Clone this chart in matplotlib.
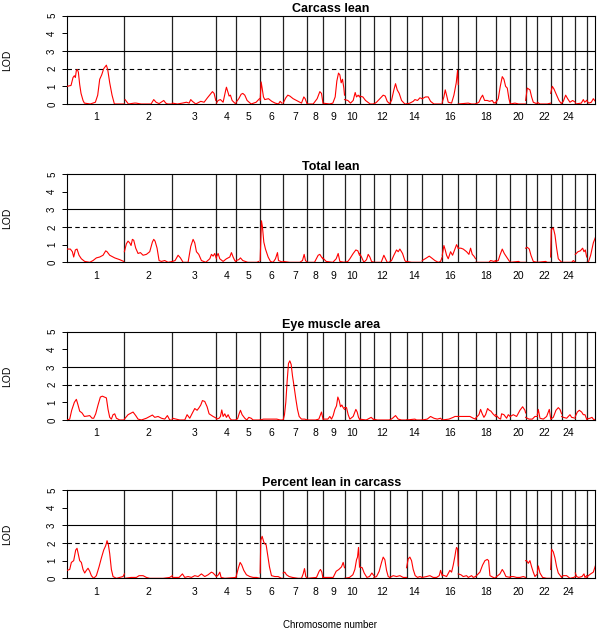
import numpy as np
import matplotlib.pyplot as plt

plt.rcParams['font.family'] = ['Liberation Sans', 'DejaVu Sans']

chrom_names = [str(i) for i in range(1, 27)]
chrom_len = [172, 144, 132, 59, 72, 69, 72, 47, 65, 45, 43, 48, 50,
             47, 60, 48, 52, 60, 44, 46, 35, 40, 33, 41, 34, 26]
shown_labels = ['1', '2', '3', '4', '5', '6', '7', '8', '9', '10',
                '12', '14', '16', '18', '20', '22', '24']

# LOD profiles: one list of (position, LOD) per chromosome
carcass_lean = [
    [(0, 1.0), (12, 1.05), (18, 1.5), (22, 1.6), (25, 1.5), (28, 1.9), (31, 1.95), (34, 1.8), (38, 1.1), (42, 0.6),
     (48, 0.2), (52, 0.05), (70, 0.0), (85, 0.1), (92, 0.5), (98, 1.4), (104, 1.65), (110, 2.0), (114, 2.1),
     (118, 2.2), (122, 1.95), (128, 1.2), (135, 0.5), (142, 0.0), (172, 0.0)],
    [(2, 0.25), (8, 0.1), (12, 0.0), (30, 0.05), (35, 0.05), (50, 0.0), (80, 0.0), (88, 0.25), (95, 0.1),
     (104, 0.02), (118, 0.2), (124, 0.05), (130, 0.0), (144, 0.0)],
    [(0, 0.05), (15, 0.0), (30, 0.05), (42, 0.1), (50, 0.05), (55, 0.25), (60, 0.15), (70, 0.0), (85, 0.15),
     (95, 0.1), (105, 0.35), (120, 0.7), (125, 0.6), (130, 0.2)],
    [(0, 0.05), (5, 0.2), (12, 0.25), (20, 0.1), (28, 0.8), (30, 0.95), (34, 0.7), (38, 0.45), (42, 0.5),
     (47, 0.2), (55, 0.05), (59, 0.0)],
    [(0, 0.1), (8, 0.3), (15, 0.55), (20, 0.6), (26, 0.5), (33, 0.2), (45, 0.0), (60, 0.1), (70, 0.3)],
    [(0, 0.2), (3, 1.25), (6, 0.9), (10, 0.4), (14, 0.25), (25, 0.3), (35, 0.15), (45, 0.05), (55, 0.0),
     (60, 0.15), (65, 0.05)],
    [(0, 0.05), (8, 0.35), (14, 0.5), (20, 0.45), (30, 0.3), (45, 0.15), (55, 0.05), (62, 0.4), (66, 0.3), (72, 0.0)],
    [(0, 0.0), (18, 0.0), (30, 0.3), (38, 0.7), (43, 0.6), (47, 0.1)],
    [(0, 0.05), (20, 0.0), (30, 0.05), (37, 0.4), (42, 1.3), (47, 1.75), (51, 1.65), (55, 1.2), (59, 1.4),
     (63, 0.9), (65, 0.5)],
    [(0, 0.25), (10, 0.2), (18, 0.05), (26, 0.2), (32, 0.65), (36, 0.4), (41, 0.5), (45, 0.4)],
    [(0, 0.45), (10, 0.4), (18, 0.2), (25, 0.1), (32, 0.0), (43, 0.0)],
    [(0, 0.0), (8, 0.1), (18, 0.3), (28, 0.5), (34, 0.45), (40, 0.15), (48, 0.0)],
    [(0, 0.05), (5, 0.2), (12, 0.8), (17, 1.15), (22, 0.8), (28, 0.6), (35, 0.2), (45, 0.0), (50, 0.0)],
    [(0, 0.0), (10, 0.05), (20, 0.15), (25, 0.25), (33, 0.2), (40, 0.35), (47, 0.3)],
    [(0, 0.3), (10, 0.4), (18, 0.4), (25, 0.15), (35, 0.0), (60, 0.0)],
    [(0, 0.1), (5, 0.4), (9, 0.8), (13, 0.5), (18, 0.1), (28, 0.05), (35, 0.5), (42, 1.2), (46, 1.9), (48, 1.1)],
    [(0, 0.0), (30, 0.05), (40, 0.0), (52, 0.0)],
    [(0, 0.0), (10, 0.1), (16, 0.35), (21, 0.5), (27, 0.2), (35, 0.2), (42, 0.15), (50, 0.2), (55, 0.05), (60, 0.1)],
    [(0, 0.05), (8, 0.3), (14, 1.0), (20, 1.55), (25, 1.4), (30, 1.0), (35, 0.9), (40, 0.3), (44, 0.0)],
    [(0, 0.0), (14, 0.05), (25, 0.0), (46, 0.0)],
    [(0, 0.2), (5, 0.9), (13, 0.8), (18, 0.4), (23, 0.1), (35, 0.0)],
    [(0, 0.1), (8, 0.0), (30, 0.0), (40, 0.05)],
    [(0, 0.6), (5, 1.0), (10, 0.85), (18, 0.5), (25, 0.2), (33, 0.0)],
    [(0, 0.05), (5, 0.15), (12, 0.5), (18, 0.3), (25, 0.1), (33, 0.2), (41, 0.1)],
    [(0, 0.0), (18, 0.05), (24, 0.25), (28, 0.1), (34, 0.2)],
    [(0, 0.2), (6, 0.05), (14, 0.1), (20, 0.3), (26, 0.15)],
]

total_lean = [
    [(0, 0.75), (10, 0.75), (16, 0.6), (20, 0.3), (25, 0.7), (30, 0.75), (36, 0.4), (43, 0.2), (53, 0.05),
     (68, 0.0), (78, 0.1), (88, 0.25), (98, 0.3), (108, 0.4), (116, 0.65), (120, 0.6), (128, 0.4), (143, 0.25),
     (158, 0.15), (170, 0.05)],
    [(0, 0.6), (6, 1.05), (11, 1.2), (16, 1.1), (20, 0.95), (24, 1.3), (28, 1.25), (34, 0.8), (41, 0.5),
     (48, 0.55), (56, 0.4), (66, 0.45), (76, 0.6), (84, 1.15), (88, 1.3), (92, 1.2), (98, 0.8), (104, 0.1),
     (111, 0.05), (121, 0.1), (131, 0.0), (144, 0.05)],
    [(0, 0.05), (8, 0.1), (17, 0.4), (24, 0.25), (32, 0.0), (47, 0.0), (55, 0.9), (62, 1.3), (67, 1.1),
     (72, 0.6), (79, 0.45), (87, 0.1), (100, 0.0), (112, 0.2), (117, 0.45), (122, 0.35), (127, 0.5), (132, 0.2)],
    [(0, 0.3), (5, 0.5), (10, 0.2), (20, 0.05), (30, 0.2), (40, 0.3), (45, 0.55), (50, 0.3), (55, 0.1), (59, 0.0)],
    [(0, 0.1), (8, 0.15), (13, 0.25), (20, 0.1), (35, 0.0), (62, 0.0), (68, 0.05)],
    [(0, 0.1), (4, 2.35), (7, 2.0), (11, 1.15), (16, 0.75), (24, 0.3), (31, 0.05), (39, 0.0), (46, 0.2),
     (52, 0.55), (55, 0.1), (69, 0.0)],
    [(0, 0.05), (20, 0.0), (50, 0.0), (58, 0.1), (63, 0.45), (67, 0.1), (72, 0.0)],
    [(0, 0.0), (22, 0.0), (33, 0.4), (38, 0.45), (43, 0.3), (47, 0.2)],
    [(0, 0.25), (10, 0.05), (30, 0.0), (40, 0.2), (46, 0.5), (51, 0.05), (65, 0.0)],
    [(0, 0.0), (10, 0.05), (16, 0.2), (26, 0.5), (34, 0.7), (40, 0.65), (45, 0.4)],
    [(0, 0.5), (6, 0.3), (13, 0.0), (21, 0.15), (26, 0.45), (31, 0.3), (36, 0.05), (43, 0.0)],
    [(0, 0.0), (22, 0.0), (30, 0.4), (35, 0.2), (40, 0.0), (48, 0.0)],
    [(0, 0.05), (5, 0.1), (12, 0.4), (20, 0.7), (25, 0.6), (30, 0.75), (38, 0.5), (45, 0.1), (50, 0.0)],
    [(0, 0.05), (15, 0.0), (47, 0.0)],
    [(0, 0.1), (13, 0.25), (21, 0.35), (28, 0.25), (38, 0.1), (48, 0.0), (55, 0.05), (60, 0.3)],
    [(0, 0.4), (5, 0.95), (9, 0.7), (13, 0.4), (18, 0.2), (25, 0.6), (31, 0.4), (38, 0.75), (43, 1.0), (48, 0.8)],
    [(0, 0.8), (8, 0.8), (15, 0.75), (25, 0.6), (32, 0.45), (37, 0.8), (42, 0.45), (47, 0.35), (52, 0.2)],
    [(0, 0.0), (40, 0.0), (45, 0.1), (55, 0.05), (60, 0.1)],
    [(0, 0.05), (8, 0.1), (13, 0.4), (20, 0.75), (26, 0.5), (33, 0.3), (40, 0.1), (44, 0.0)],
    [(0, 0.0), (25, 0.05), (30, 0.0), (46, 0.0)],
    [(0, 0.8), (5, 0.85), (11, 0.75), (16, 0.4), (23, 0.05), (35, 0.0)],
    [(0, 0.0), (25, 0.05), (30, 0.0), (40, 0.0)],
    [(0, 0.3), (2, 1.85), (8, 1.95), (13, 1.55), (18, 0.8), (23, 0.2), (33, 0.0)],
    [(0, 0.0), (30, 0.0), (35, 0.1), (41, 0.0)],
    [(0, 0.45), (8, 0.6), (15, 0.65), (22, 0.8), (26, 0.6), (30, 0.7), (34, 0.3)],
    [(0, 0.0), (5, 0.0), (12, 0.4), (20, 1.1), (26, 1.4)],
]

eye_muscle_area = [
    [(0, 0.0), (8, 0.05), (14, 0.55), (22, 1.0), (28, 1.17), (33, 0.85), (38, 0.5), (45, 0.4), (52, 0.2),
     (60, 0.22), (68, 0.25), (75, 0.1), (80, 0.1), (86, 0.35), (93, 0.85), (100, 1.3), (106, 1.35), (112, 1.3),
     (118, 1.25), (123, 0.6), (128, 0.15), (133, 0.05), (138, 0.3), (143, 0.35), (148, 0.1), (158, 0.0), (172, 0.0)],
    [(0, 0.05), (11, 0.3), (21, 0.4), (26, 0.45), (34, 0.25), (41, 0.05), (51, 0.0), (66, 0.1), (76, 0.2),
     (84, 0.28), (91, 0.15), (101, 0.2), (111, 0.1), (121, 0.05), (129, 0.25), (136, 0.0), (144, 0.0)],
    [(0, 0.1), (22, 0.0), (37, 0.0), (44, 0.3), (52, 0.1), (60, 0.4), (67, 0.65), (74, 0.55), (80, 0.7),
     (85, 0.85), (90, 1.1), (97, 1.05), (104, 0.75), (110, 0.35), (122, 0.2), (132, 0.1)],
    [(0, 0.05), (8, 0.1), (12, 0.2), (16, 0.57), (20, 0.2), (25, 0.35), (30, 0.15), (35, 0.3), (40, 0.1),
     (45, 0.0), (59, 0.0)],
    [(0, 0.0), (5, 0.1), (9, 0.35), (13, 0.55), (18, 0.3), (26, 0.1), (32, 0.0), (38, 0.15), (45, 0.1),
     (51, 0.0), (72, 0.0)],
    [(0, 0.0), (10, 0.05), (50, 0.05), (60, 0.0), (69, 0.0)],
    [(0, 0.0), (4, 0.3), (8, 1.0), (12, 2.2), (16, 3.2), (20, 3.35), (24, 3.15), (28, 2.5), (32, 2.0),
     (38, 1.2), (43, 0.6), (48, 0.2), (55, 0.05), (65, 0.05), (72, 0.0)],
    [(0, 0.0), (25, 0.0), (35, 0.05), (43, 0.45), (47, 0.1)],
    [(0, 0.05), (15, 0.05), (21, 0.2), (26, 0.05), (31, 0.25), (36, 0.6), (41, 0.8), (45, 1.3), (49, 1.1),
     (53, 0.75), (57, 0.85), (61, 0.7), (65, 0.6)],
    [(0, 0.7), (6, 0.7), (11, 0.3), (16, 0.05), (26, 0.2), (34, 0.6), (38, 0.45), (42, 0.15), (45, 0.05)],
    [(0, 0.05), (20, 0.0), (35, 0.15), (43, 0.0)],
    [(0, 0.05), (10, 0.0), (48, 0.0)],
    [(0, 0.0), (8, 0.1), (17, 0.25), (25, 0.05), (35, 0.0), (50, 0.0)],
    [(0, 0.0), (25, 0.05), (30, 0.0), (47, 0.0)],
    [(0, 0.0), (15, 0.05), (25, 0.2), (35, 0.1), (45, 0.05), (55, 0.1), (60, 0.0)],
    [(0, 0.0), (20, 0.05), (33, 0.15), (38, 0.2), (48, 0.2)],
    [(0, 0.2), (20, 0.2), (35, 0.2), (45, 0.1), (52, 0.05)],
    [(0, 0.1), (10, 0.3), (15, 0.6), (20, 0.35), (25, 0.15), (30, 0.3), (36, 0.65), (41, 0.55), (46, 0.5),
     (52, 0.35), (60, 0.2)],
    [(0, 0.3), (5, 0.2), (10, 0.1), (15, 0.05), (18, 0.35), (25, 0.3), (33, 0.1), (38, 0.3), (44, 0.2)],
    [(0, 0.2), (9, 0.3), (19, 0.2), (29, 0.55), (37, 0.75), (44, 0.55), (46, 0.4)],
    [(0, 0.15), (10, 0.05), (20, 0.05), (28, 0.2), (35, 0.2)],
    [(0, 0.3), (3, 0.6), (8, 0.1), (18, 0.05), (28, 0.2), (36, 0.6), (40, 0.1)],
    [(0, 0.05), (8, 0.15), (16, 0.55), (23, 0.7), (28, 0.6), (33, 0.35)],
    [(0, 0.2), (5, 0.15), (15, 0.1), (25, 0.3), (30, 0.15), (41, 0.1)],
    [(0, 0.2), (6, 0.45), (12, 0.55), (19, 0.45), (24, 0.3), (29, 0.3), (34, 0.05)],
    [(0, 0.05), (10, 0.1), (16, 0.15), (22, 0.0), (26, 0.05)],
]

percent_lean = [
    [(0, 0.45), (8, 0.5), (13, 0.9), (20, 1.0), (26, 1.6), (30, 1.7), (34, 1.35), (38, 1.0), (43, 0.9),
     (48, 0.5), (53, 0.3), (58, 0.45), (63, 0.57), (68, 0.4), (73, 0.15), (80, 0.0), (88, 0.15), (96, 0.65),
     (103, 1.15), (110, 1.6), (116, 1.85), (120, 2.13), (124, 1.9), (128, 1.4), (133, 0.5), (138, 0.1),
     (148, 0.0), (158, 0.05), (168, 0.1), (172, 0.25)],
    [(0, 0.0), (20, 0.05), (36, 0.05), (44, 0.15), (56, 0.15), (66, 0.05), (76, 0.0), (116, 0.0),
     (136, 0.05), (144, 0.15)],
    [(0, 0.05), (20, 0.05), (30, 0.25), (37, 0.05), (47, 0.1), (57, 0.05), (67, 0.15), (77, 0.1), (87, 0.25),
     (97, 0.1), (107, 0.2), (117, 0.35), (122, 0.3), (132, 0.1)],
    [(0, 0.1), (6, 0.2), (10, 0.35), (14, 0.05), (25, 0.0), (59, 0.05)],
    [(0, 0.1), (7, 0.6), (12, 0.9), (17, 0.75), (23, 0.45), (31, 0.2), (41, 0.1), (51, 0.05), (61, 0.05), (72, 0.0)],
    [(0, 0.3), (2, 2.15), (6, 2.38), (11, 2.05), (14, 1.95), (18, 1.9), (22, 1.4), (28, 0.65), (34, 0.15),
     (44, 0.1), (54, 0.1), (64, 0.0), (69, 0.0)],
    [(0, 0.3), (5, 0.35), (10, 0.2), (18, 0.1), (28, 0.05), (45, 0.0), (55, 0.0), (60, 0.25), (64, 0.55),
     (68, 0.1), (72, 0.0)],
    [(0, 0.0), (28, 0.05), (36, 0.4), (40, 0.5), (44, 0.35), (47, 0.05)],
    [(0, 0.05), (31, 0.05), (40, 0.4), (48, 0.5), (56, 0.65), (61, 0.9), (65, 0.6)],
    [(0, 0.0), (15, 0.05), (25, 0.2), (31, 0.5), (36, 1.05), (39, 1.2), (42, 1.75), (45, 0.65)],
    [(0, 0.65), (8, 0.6), (14, 0.3), (22, 0.05), (30, 0.1), (37, 0.3), (43, 0.15)],
    [(0, 0.05), (8, 0.1), (16, 0.4), (23, 0.9), (28, 1.2), (33, 1.05), (38, 0.45), (43, 0.1), (48, 0.05)],
    [(0, 0.05), (10, 0.15), (20, 0.1), (30, 0.15), (40, 0.05), (50, 0.05)],
    [(0, 0.6), (5, 1.1), (10, 1.2), (15, 1.0), (20, 0.5), (26, 0.15), (33, 0.05), (40, 0.1), (47, 0.05)],
    [(0, 0.05), (13, 0.1), (23, 0.15), (33, 0.05), (43, 0.05), (51, 0.15), (55, 0.45), (60, 0.15)],
    [(0, 0.2), (13, 0.1), (23, 0.45), (28, 0.35), (33, 0.75), (38, 1.25), (41, 1.6), (43, 1.75), (46, 1.65),
     (48, 0.7)],
    [(0, 0.25), (8, 0.2), (15, 0.1), (25, 0.15), (30, 0.05), (40, 0.15), (45, 0.05), (52, 0.1)],
    [(0, 0.1), (13, 0.35), (21, 0.75), (28, 1.0), (35, 1.07), (39, 1.0), (43, 0.15), (53, 0.05), (60, 0.0)],
    [(0, 0.05), (13, 0.25), (20, 0.5), (25, 0.35), (31, 0.1), (44, 0.05)],
    [(0, 0.1), (9, 0.1), (19, 0.05), (29, 0.05), (39, 0.1), (46, 0.05)],
    [(0, 1.0), (3, 1.0), (8, 0.85), (13, 1.0), (18, 0.65), (23, 0.35), (28, 0.1), (35, 0.25)],
    [(0, 0.35), (3, 0.7), (8, 0.3), (16, 0.05), (28, 0.0), (40, 0.0)],
    [(0, 0.5), (3, 1.65), (8, 1.5), (13, 1.15), (18, 0.65), (23, 0.3), (33, 0.05)],
    [(0, 0.1), (5, 0.15), (15, 0.15), (25, 0.0), (36, 0.05), (41, 0.1)],
    [(0, 0.3), (4, 0.1), (10, 0.05), (20, 0.1), (26, 0.25), (29, 0.05), (34, 0.15)],
    [(0, 0.05), (5, 0.15), (12, 0.25), (20, 0.35), (26, 0.7)],
]

panels = [
    ('Carcass lean', carcass_lean),
    ('Total lean', total_lean),
    ('Eye muscle area', eye_muscle_area),
    ('Percent lean in carcass', percent_lean),
]

starts = np.concatenate([[0], np.cumsum(chrom_len)[:-1]])
ends = np.cumsum(chrom_len)
mids = (starts + ends) / 2
total = ends[-1]

fig = plt.figure(figsize=(6.0, 6.31), dpi=100)
bottoms = [0.8352, 0.5843, 0.3344, 0.0835]

for (title, profile), b in zip(panels, bottoms):
    ax = fig.add_axes([0.1117, b, 0.8805, 0.1399])
    for k, segs in enumerate(profile):
        pos = np.array([p for p, _ in segs], dtype=float)
        lod = np.array([v for _, v in segs])
        ax.plot(starts[k] + pos, lod, color='#ff0000', lw=0.8, zorder=3)
    for e in ends[:-1]:
        ax.axvline(e, color='#222222', lw=0.9, zorder=2)
    ax.axhline(3, color='black', lw=0.8, zorder=2)
    ax.axhline(2, color='black', lw=0.8, ls=(0, (4, 3)), zorder=2)
    ax.set_xlim(0, total)
    ax.set_ylim(0, 5)
    ax.set_yticks(range(6))
    ax.tick_params(axis='y', length=3.6, width=0.7, labelsize=7, pad=3.5)
    for lab in ax.get_yticklabels():
        lab.set_rotation(90)
        lab.set_va('center')
    idx = [chrom_names.index(s) for s in shown_labels]
    ax.set_xticks(mids[idx])
    ax.set_xticklabels(shown_labels)
    ax.tick_params(axis='x', length=0, labelsize=7.5, pad=6)
    for sp in ax.spines.values():
        sp.set_linewidth(0.8)
    ax.set_title(title, fontsize=9, fontweight='bold', pad=3)
    ax.set_ylabel('LOD', fontsize=7.5, labelpad=25)

fig.text(0.5508, 0.002, 'Chromosome number', ha='center', va='bottom', fontsize=7)

fig.savefig('out.png', dpi=100)
